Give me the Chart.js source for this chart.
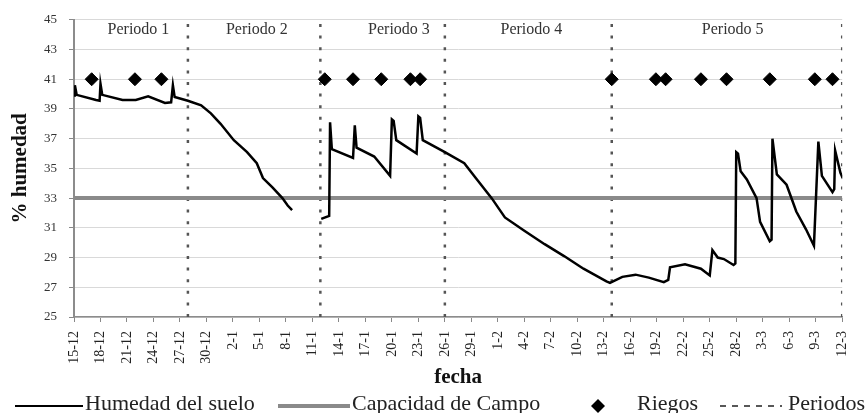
<!DOCTYPE html>
<html lang="es">
<head>
<meta charset="UTF-8" />
<title>Humedad del suelo</title>
<script src="https://cdn.jsdelivr.net/npm/chart.js"></script>
<style>
  body { margin: 0; background: #ffffff; }
  .grafico { position: relative; width: 868px; height: 413px; }
</style>
</head>
<body>
<div class="grafico"><canvas id="humedadChart"></canvas></div>
<script>
  // dias contados desde el 15-12
  const fechaTicks = ['15-12', '18-12', '21-12', '24-12', '27-12', '30-12', '2-1', '5-1', '8-1', '11-1',
    '14-1', '17-1', '20-1', '23-1', '26-1', '29-1', '1-2', '4-2', '7-2', '10-2',
    '13-2', '16-2', '19-2', '22-2', '25-2', '28-2', '3-3', '6-3', '9-3', '12-3'];

  const dias = [0, 0.1, 0.3, 2.5, 2.9, 3.0, 3.2, 5.5, 7.0, 8.4, 10.3, 11.0, 11.2, 11.4, 12.9, 14.4, 15.5, 16.6,
    18.1, 19.6, 20.7, 21.4, 22.5, 23.6, 24.2, 24.7,
    26,
    28.0, 28.9, 29.0, 29.2, 31.6, 31.8, 32.0, 34.0, 35.8, 36.0, 36.2, 36.5, 38.8, 39.0, 39.2, 39.5,
    42.0, 44.2, 45.5, 47.3, 48.8, 51.0, 53.3, 55.5, 57.7, 60.3, 60.7, 62.1, 63.6, 65.1, 66.8, 67.3,
    67.5, 69.2, 71.0, 72.0, 72.3, 72.9, 73.6, 74.7, 74.9, 75.0, 75.2, 75.5, 76.2, 77.3, 77.7, 78.8,
    79.0, 79.1, 79.6, 80.7, 81.8, 82.9, 83.8, 84.3, 84.7, 85.9, 86.1, 86.2, 86.8, 87.1];
  const humedad = [39.9, 40.6, 39.95, 39.6, 39.55, 40.7, 39.95, 39.6, 39.6, 39.85, 39.4, 39.45, 40.6, 39.8, 39.55, 39.25, 38.7, 38.0,
    36.9, 36.1, 35.35, 34.35, 33.7, 33.0, 32.5, 32.2,
    null,
    31.6, 31.8, 38.1, 36.3, 35.7, 37.9, 36.4, 35.8, 34.5, 38.3, 38.2, 36.9, 36.0, 38.5, 38.4, 36.9,
    36.1, 35.35, 34.35, 33.0, 31.7, 30.8, 29.9, 29.1, 28.25, 27.4, 27.3, 27.7, 27.85, 27.65, 27.35, 27.5,
    28.35, 28.55, 28.25, 27.8, 29.5, 29.0, 28.9, 28.5, 28.6, 36.1, 36.0, 34.8, 34.25, 33.0, 31.4, 30.1,
    30.2, 37.0, 34.6, 33.9, 32.1, 30.9, 29.8, 36.8, 34.5, 33.4, 33.6, 36.2, 34.7, 34.3];

  const capacidadCampo = 33;

  const riegosDias = [2.0, 6.9, 9.9, 28.4, 31.6, 34.8, 38.1, 39.2, 60.9, 65.9, 67.0, 71.0, 73.9, 78.8, 83.9, 85.9];
  const riegoNivel = 41;

  const cortesPeriodo = [12.9, 27.9, 42.0, 60.9, 87.0];
  const periodos = ['Periodo 1', 'Periodo 2', 'Periodo 3', 'Periodo 4', 'Periodo 5'];
  const periodoCentro = [7.3, 20.7, 36.8, 51.8, 74.6];
  const periodoNivel = 44.3;

  const DIA_MAX = 87;
  const Y_MIN = 25, Y_MAX = 45;
  const SERIF = "'Liberation Serif', 'Times New Roman', serif";

  const lineas = cortesPeriodo.map(c => ({
    label: 'Periodos',
    data: [{ x: c, y: Y_MIN }, { x: c, y: Y_MAX }],
    borderColor: '#555',
    borderWidth: 2.5,
    borderDash: [3, 8.6],
    pointRadius: 0
  }));

  // etiquetas de periodo en la parte alta del grafico
  const etiquetasPeriodo = {
    id: 'etiquetasPeriodo',
    afterDatasetsDraw(chart) {
      const { ctx, scales } = chart;
      ctx.save();
      ctx.font = '16px ' + SERIF;
      ctx.fillStyle = '#333';
      ctx.textAlign = 'center';
      ctx.textBaseline = 'middle';
      periodos.forEach((p, i) => {
        ctx.fillText(p, scales.x.getPixelForValue(periodoCentro[i]), scales.y.getPixelForValue(periodoNivel));
      });
      ctx.restore();
    }
  };

  // leyenda inferior dibujada a mano
  const leyenda = {
    id: 'leyenda',
    afterDraw(chart) {
      const ctx = chart.ctx;
      const y = 406;
      ctx.save();
      ctx.font = '22px ' + SERIF;
      ctx.fillStyle = '#222';
      ctx.textBaseline = 'middle';

      ctx.strokeStyle = '#000';
      ctx.lineWidth = 2;
      ctx.beginPath(); ctx.moveTo(15, y); ctx.lineTo(83, y); ctx.stroke();
      ctx.fillText('Humedad del suelo', 85, y - 2);

      ctx.strokeStyle = '#8a8a8a';
      ctx.lineWidth = 4;
      ctx.beginPath(); ctx.moveTo(278, y); ctx.lineTo(350, y); ctx.stroke();
      ctx.fillText('Capacidad de Campo', 352, y - 2);

      ctx.fillStyle = '#000';
      ctx.beginPath();
      ctx.moveTo(598, y - 7); ctx.lineTo(605, y); ctx.lineTo(598, y + 7); ctx.lineTo(591, y);
      ctx.closePath(); ctx.fill();
      ctx.fillStyle = '#222';
      ctx.fillText('Riegos', 637, y - 2);

      ctx.strokeStyle = '#222';
      ctx.lineWidth = 1.5;
      ctx.setLineDash([6, 6]);
      ctx.beginPath(); ctx.moveTo(720, y); ctx.lineTo(782, y); ctx.stroke();
      ctx.setLineDash([]);
      ctx.fillText('Periodos', 788, y - 2);
      ctx.restore();
    }
  };

  new Chart(document.getElementById('humedadChart'), {
    type: 'line',
    data: {
      datasets: [
        {
          label: 'Humedad del suelo',
          data: dias.map((d, i) => ({ x: d, y: humedad[i] })),
          borderColor: '#000',
          borderWidth: 2.5,
          pointRadius: 0,
          spanGaps: false,
          tension: 0
        },
        {
          label: 'Riegos',
          data: riegosDias.map(d => ({ x: d, y: riegoNivel })),
          showLine: false,
          pointStyle: 'rectRot',
          pointRadius: 6.5,
          backgroundColor: '#000',
          borderColor: '#000'
        },
        {
          label: 'Capacidad de Campo',
          data: [{ x: 0, y: capacidadCampo }, { x: DIA_MAX, y: capacidadCampo }],
          borderColor: '#8a8a8a',
          borderWidth: 4,
          pointRadius: 0
        },
        ...lineas
      ]
    },
    options: {
      responsive: true,
      maintainAspectRatio: false,
      animation: false,
      layout: { padding: { top: 17, right: 11, left: 0, bottom: 21 } },
      plugins: { legend: { display: false }, tooltip: { enabled: false } },
      scales: {
        x: {
          type: 'linear',
          min: 0,
          max: DIA_MAX,
          afterFit: s => { s.height = 75; },
          grid: { drawOnChartArea: false, drawTicks: true, tickLength: 5, tickColor: '#888' },
          border: { color: '#8c8c8c', width: 1.5 },
          ticks: {
            stepSize: 3,
            autoSkip: false,
            minRotation: 90,
            maxRotation: 90,
            padding: 9,
            color: '#222',
            font: { family: SERIF, size: 14 },
            callback: v => fechaTicks[Math.round(v / 3)]
          },
          title: {
            display: true,
            text: 'fecha',
            color: '#111',
            font: { family: SERIF, size: 21, weight: 'bold' },
            padding: { top: 0, bottom: 2 }
          }
        },
        y: {
          min: Y_MIN,
          max: Y_MAX,
          afterFit: s => { s.width = 74; },
          grid: { color: '#d9d9d9', lineWidth: 1, tickLength: 5, tickColor: '#888' },
          border: { color: '#8c8c8c', width: 2 },
          ticks: {
            stepSize: 2,
            padding: 12,
            color: '#333',
            font: { family: SERIF, size: 13 }
          },
          title: {
            display: true,
            text: '% humedad',
            color: '#111',
            font: { family: SERIF, size: 21, weight: 'bold' },
            padding: { top: 8, bottom: 0 }
          }
        }
      }
    },
    plugins: [etiquetasPeriodo, leyenda]
  });
</script>
</body>
</html>
